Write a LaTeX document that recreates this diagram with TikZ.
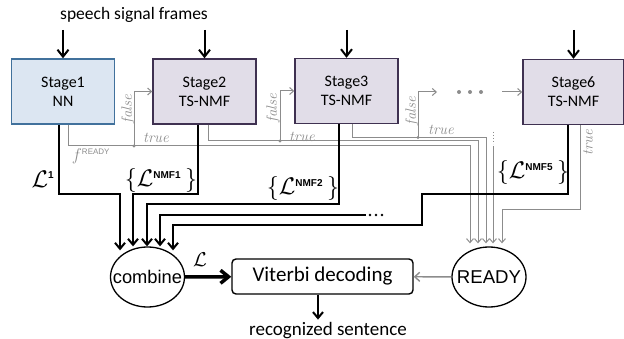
\documentclass[tikz,border=0pt]{standalone}
\usepackage{fix-cm}
\usepackage{fontspec}
\usetikzlibrary{arrows.meta,shapes.geometric}
\newfontfamily\calib{Carlito}
\newfontfamily\arialf{Liberation Sans}
\newcommand\supfont{\arialf\bfseries\fontsize{10}{10}\selectfont}
\definecolor{sfill}{HTML}{DCE6F2}
\definecolor{sdraw}{HTML}{41719C}
\definecolor{pfill}{HTML}{E1DDE8}
\definecolor{pdraw}{HTML}{3F3151}
\definecolor{gln}{HTML}{8C8C8C}
\tikzset{
  stagebox/.style={draw=pdraw, fill=pfill, line width=1.4pt, minimum width=103pt,
    minimum height=65pt, inner sep=0pt, align=center,
    font=\calib\fontsize{16}{19}\selectfont},
  blkline/.style={line width=2pt, -{Straight Barb[length=6pt,width=10pt]}},
  inarrow/.style={line width=2pt, -{Straight Barb[length=7pt,width=11pt]}},
  gryline/.style={draw=gln, line width=1pt, -{Straight Barb[length=4pt,width=7pt]}},
  grylinenoarrow/.style={draw=gln, line width=1pt},
  lbl/.style={text=gln, inner sep=0pt, font=\fontsize{15}{15}\selectfont\itshape},
  Lbl/.style={inner sep=0pt, font=\fontsize{24}{24}\selectfont},
  oval/.style={draw, ellipse, line width=1.3pt, minimum width=74pt, minimum height=60pt, inner sep=0pt},
}
\begin{document}
\begin{tikzpicture}[x=1pt,y=-1pt]
\useasboundingbox (0,0) rectangle (624,339);

% stages
\node[stagebox, draw=sdraw, fill=sfill] (s1) at (63,91.5) {Stage1\\NN};
\node[stagebox] (s2) at (204.5,91.5) {Stage2\\TS-NMF};
\node[stagebox] (s3) at (346.5,91) {Stage3\\TS-NMF};
\node[stagebox, minimum width=101pt] (s6) at (573.5,92) {Stage6\\TS-NMF};

% title and inputs
\node[inner sep=0pt, font=\calib\fontsize{17.5}{20}\selectfont] (title) at (134,15) {speech signal frames};
\coordinate (i1) at (63,30);
\coordinate (i2) at (204.5,30);
\coordinate (i3) at (346.5,30);
\coordinate (i6) at (573.5,30);
\draw[inarrow] (i1) -- (s1);
\draw[inarrow] (i2) -- (s2);
\draw[inarrow] (i3) -- (s3);
\draw[inarrow] (i6) -- (s6);

% lower nodes
\node[oval] (combine) at (147.5,277) {\makebox[0pt]{\arialf\fontsize{18.3}{20}\selectfont combine}};
\node[oval] (ready) at (489,277) {\makebox[0pt]{\arialf\fontsize{18.6}{20}\selectfont READY}};
\node[draw, rounded corners=4pt, line width=1.4pt, minimum width=181pt, minimum height=35pt,
  inner sep=0pt, font=\calib\fontsize{21}{24}\selectfont] (viterbi) at (322.5,276.5) {Viterbi decoding};
\node[anchor=base, inner sep=0pt, font=\calib\fontsize{19}{22}\selectfont] (rec) at (328,335) {recognized sentence};

% gray true/false paths
\coordinate (j1) at (134,146);
\coordinate (j2) at (280,141);
\coordinate (j3) at (418,137.5);
\draw[gryline, shorten >=3pt] ([xshift=5.5pt]s1.south) |- (470,146) -- (ready.north -| 470,0);
\draw[gryline, shorten >=3pt] ([xshift=4pt]s2.south) |- (478,141) -- (ready.north -| 478,0);
\draw[gryline, shorten >=3pt] ([xshift=6pt]s3.south) |- (486,137.5) -- (ready.north -| 486,0);
\draw[gryline, shorten >=3pt] ([xshift=6.5pt]s6.south) |- (502,210) -- (ready.north -| 502,0);
\coordinate (vd) at (493,146);
\draw[gryline, shorten >=3pt] (vd) -- (ready.north -| 493,0);
\draw[grylinenoarrow, dash pattern=on 1pt off 2pt] (493,132) -- (493,144);
\draw[gryline] (j1) |- (s2.west);
\draw[gryline] (j2) |- (s3.west);
\coordinate (fe) at (437,92);
\coordinate (gd) at (502,92);
\draw[gryline] (j3) |- (fe);
\draw[gryline] (gd) -- (s6.west);
\foreach \p in {j1,j2,j3} \fill[gln] (\p) circle (1.6pt);
\foreach \xx in {459,470,481} \fill[gln] (\xx,92) circle (2pt);
\draw[gryline, line width=1.4pt, -{Straight Barb[length=5pt,width=9pt]}] (ready) -- (viterbi);

% gray labels
\node[lbl, rotate=90] (f1) at (128,109) {false};
\node[lbl, rotate=90] (f2) at (273,108) {false};
\node[lbl, rotate=90] (f3) at (412,111) {false};
\node[lbl] (t1) at (156,138) {true};
\node[lbl] (t2) at (302,137) {true};
\node[lbl] (t3) at (441,130) {true};
\node[lbl, rotate=90] (t6) at (588,143) {true};
\node[text=gln, inner sep=0pt, font=\fontsize{17}{17}\selectfont] (fr) at (91,156)
  {$f^{\mbox{\arialf\fontsize{8}{8}\selectfont READY}}$};

% black outputs
\node[minimum width=20pt, minimum height=4pt, inner sep=0pt] (bdots) at (376,215) {};
\foreach \dx in {-6,0,6} \fill ([xshift=\dx pt]bdots.center) circle (1.3pt);
\draw[blkline, shorten >=-4pt] ([xshift=-4pt]s1.south) |- (120,194) -- (combine.north -| 120,0);
\draw[blkline] ([xshift=-6.5pt]s2.south) |- (133,194) -- (combine.north -| 133,0);
\draw[blkline] ([xshift=-7.5pt]s3.south) |- (147,204) -- (combine.north -| 147,0);
\draw[blkline] (bdots.west) -- (160,215) -- (combine.north -| 160,0);
\draw[blkline, shorten >=-4pt] ([xshift=-5.5pt]s6.south) |- (422,194) |- (173,225) -- (combine.north -| 173,0);
\draw[line width=3.5pt, -{Straight Barb[length=8pt,width=13pt]}] (combine) -- (viterbi);
\draw[blkline, shorten >=2pt] (viterbi.south -| 318,0) -- (rec.north -| 318,0);

% math labels
\node[Lbl] (l1) at (43,179) {$\mathcal{L}^{\mbox{\supfont 1}}$};
\node[Lbl] (ln1) at (161,181) {$\{\mathcal{L}^{\mbox{\supfont NMF1}}\,\}$};
\node[Lbl] (ln2) at (303,189) {$\{\mathcal{L}^{\mbox{\supfont NMF2}}\,\}$};
\node[Lbl] (ln5) at (533,173) {$\{\mathcal{L}^{\mbox{\supfont NMF5}}\,\}$};
\node[inner sep=0pt, font=\fontsize{20}{20}\selectfont] (lc) at (200,260) {$\mathcal{L}$};
\end{tikzpicture}
\end{document}
